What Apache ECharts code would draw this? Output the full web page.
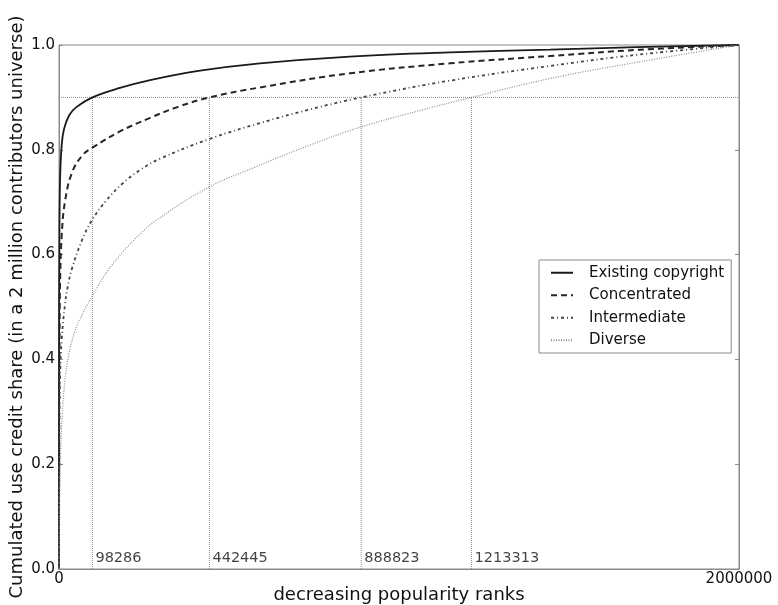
<!DOCTYPE html>
<html>
<head>
<meta charset="utf-8">
<script src="https://cdn.jsdelivr.net/npm/echarts@6/dist/echarts.min.js"></script>
<style>
html,body{margin:0;padding:0;background:#fff;}
#chart{width:778px;height:605px;}
</style>
</head>
<body>
<div id="chart"></div>
<script>
// Series: [rank, cumulated share]
const existingCopyright = [[0,0],[300,0.45],[1000,0.6],[3000,0.74],[8000,0.81],[15000,0.84],[30000,0.866],[50000,0.881],[98286,0.9],[179000,0.918],[268000,0.933],[415000,0.951],[591000,0.965],[856000,0.978],[1150000,0.986],[1444000,0.991],[1700000,0.996],[2000000,1.0]];
const concentrated = [[0,0],[500,0.3],[1500,0.42],[3000,0.54],[8000,0.637],[18000,0.703],[38000,0.756],[68000,0.789],[98286,0.804],[179000,0.835],[268000,0.861],[350000,0.882],[442445,0.9],[591000,0.919],[856000,0.946],[1150000,0.965],[1444000,0.979],[1709000,0.991],[2000000,1.0]];
const intermediate = [[0,0],[800,0.22],[3000,0.36],[7900,0.437],[17600,0.505],[25500,0.538],[38000,0.573],[68000,0.628],[98286,0.667],[140000,0.704],[189000,0.737],[240000,0.762],[297000,0.783],[444000,0.821],[591000,0.851],[738000,0.877],[888823,0.9],[1150000,0.932],[1444000,0.96],[1709000,0.982],[2000000,1.0]];
const diverse = [[0,0],[1200,0.1],[4000,0.2],[9800,0.297],[17600,0.36],[27400,0.405],[47000,0.454],[70000,0.488],[98286,0.521],[140000,0.566],[189000,0.606],[240000,0.64],[287000,0.666],[439000,0.728],[581000,0.768],[738000,0.809],[885000,0.843],[1050000,0.873],[1213313,0.9],[1444000,0.936],[1709000,0.968],[2000000,1.0]];
const seriesNames = ['Existing copyright','Concentrated','Intermediate','Diverse'];
const thresholdShare = 0.9;
const thresholdRanks = [98286, 442445, 888823, 1213313];
const xTicks = [0, 2000000];
const yTicks = [0, 0.2, 0.4, 0.6, 0.8, 1.0];

const FONT = 'DejaVu Sans';
const TXT = '#111';
const refColor = '#8a8a8a';
const chart = echarts.init(document.getElementById('chart'), null, {renderer:'canvas'});

const series = [];
series.push({
  type:'line', name:'h-ref', silent:true, symbol:'none', z:1,
  data:[[xTicks[0],thresholdShare],[xTicks[1],thresholdShare]],
  lineStyle:{color:refColor,width:1,type:[1,1]}
});
thresholdRanks.forEach(function(r,i){
  series.push({
    type:'line', name:'v-ref'+i, silent:true, symbol:'none', z:1,
    data:[[r,0],[r,thresholdShare]],
    lineStyle:{color:refColor,width:1,type:[1,1]}
  });
});
series.push({
  type:'scatter', name:'ref-labels', silent:true, symbolSize:0, z:3,
  data: thresholdRanks.map(function(r){return [r,0.021];}),
  label:{show:true, position:'right', distance:3, color:TXT, fontFamily:FONT, fontSize:14.5,
         formatter:function(p){return String(p.value[0]);}}
});
const styles = [
  {color:'#1a1a1a', width:1.8, type:'solid'},
  {color:'#262626', width:2, type:[6,4]},
  {color:'#444444', width:1.8, type:[3,3,1,3]},
  {color:'#8c8c8c', width:1.2, type:[1,1.5]}
];
[existingCopyright, concentrated, intermediate, diverse].forEach(function(d,i){
  series.push({
    type:'line', name:seriesNames[i], data:d, symbol:'none', showSymbol:false,
    smooth:0.4, z:2, clip:true,
    itemStyle:{color:styles[i].color},
    lineStyle:{color:styles[i].color, width:styles[i].width, type:styles[i].type}
  });
});

chart.setOption({
  animation:false,
  backgroundColor:'#fff',
  grid:{left:59, right:39, top:45, bottom:36, show:true, borderColor:'#8a8a8a', borderWidth:1,
        containLabel:false, outerBoundsMode:'none'},
  legend:{
    data:seriesNames, orient:'vertical', left:539, top:260,
    itemWidth:22, itemHeight:14, itemGap:5,
    padding:[4,7,4,11], borderColor:'#8a8a8a', borderWidth:1, backgroundColor:'#fff',
    itemStyle:{opacity:0},
    textStyle:{fontFamily:FONT, fontSize:15, lineHeight:17.5, color:TXT, padding:[0,0,0,11]}
  },
  xAxis:[{
    type:'value', min:xTicks[0], max:xTicks[1], interval:xTicks[1]-xTicks[0],
    name:'decreasing popularity ranks', nameLocation:'middle', nameGap:17, nameMoveOverlap:false,
    nameTextStyle:{fontFamily:FONT, fontSize:18, color:TXT},
    axisLine:{show:true, lineStyle:{color:'#8a8a8a'}},
    axisTick:{show:true, inside:true, length:4, lineStyle:{color:'#8a8a8a'}},
    splitLine:{show:false},
    axisLabel:{fontFamily:FONT, fontSize:15, color:TXT, margin:3, formatter:function(v){return String(v);}}
  }],
  yAxis:[{
    type:'value', min:yTicks[0], max:yTicks[yTicks.length-1], interval:0.2,
    name:'Cumulated use credit share (in a 2 million contributors universe)', nameLocation:'middle', nameGap:33, nameMoveOverlap:false,
    nameTextStyle:{fontFamily:FONT, fontSize:18, color:TXT},
    axisLine:{show:true, lineStyle:{color:'#8a8a8a'}},
    axisTick:{show:true, inside:true, length:4, lineStyle:{color:'#8a8a8a'}},
    splitLine:{show:false},
    axisLabel:{fontFamily:FONT, fontSize:15, color:TXT, margin:4, formatter:function(v){return v.toFixed(1);}}
  },{
    type:'value', min:yTicks[0], max:yTicks[yTicks.length-1], interval:0.2, position:'right',
    axisLine:{show:true, lineStyle:{color:'#8a8a8a'}},
    axisTick:{show:true, inside:true, length:4, lineStyle:{color:'#8a8a8a'}},
    splitLine:{show:false}, axisLabel:{show:false}
  }],
  series:series
});
</script>
</body>
</html>
